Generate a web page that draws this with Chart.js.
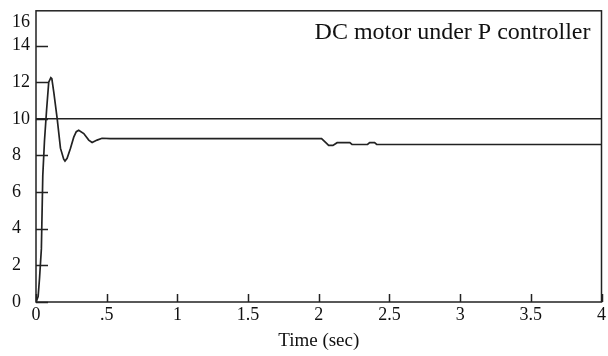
<!DOCTYPE html>
<html>
<head>
<meta charset="utf-8">
<script src="https://cdn.jsdelivr.net/npm/chart.js@4/dist/chart.umd.min.js"></script>
<style>
  html, body { margin: 0; padding: 0; background: #fff; }
  #grafico { display: block; }
</style>
</head>
<body>
<canvas id="grafico" width="608" height="356"></canvas>
<script>
// respuesta del motor (tiempo en seg, velocidad)
const tiempo = [0, 0.015, 0.025, 0.038, 0.048, 0.06, 0.075, 0.09, 0.105, 0.112, 0.126, 0.15, 0.173, 0.196, 0.205,
  0.22, 0.244, 0.267, 0.285, 0.302, 0.338, 0.373, 0.397, 0.432, 0.467, 0.525, 1, 1.5, 2.02, 2.05, 2.07, 2.1,
  2.13, 2.22, 2.235, 2.345, 2.36, 2.395, 2.41, 3, 4];
const velocidad = [0, 0.3, 1.3, 2.9, 6.9, 8.8, 10.5, 12.0, 12.25, 12.2, 11.45, 10.0, 8.4, 7.8, 7.7,
  7.85, 8.4, 9.0, 9.3, 9.38, 9.2, 8.84, 8.71, 8.84, 8.94, 8.92, 8.92, 8.92, 8.92, 8.7, 8.55, 8.55,
  8.7, 8.7, 8.6, 8.6, 8.7, 8.7, 8.6, 8.6, 8.6];
// referencia
const tiempoRef = [0, 4];
const valorRef = [10, 10];

const xTicks = [0, 0.5, 1, 1.5, 2, 2.5, 3, 3.5, 4];
const xLabels = ['0', '.5', '1', '1.5', '2', '2.5', '3', '3.5', '4'];
const yTicks = [0, 2, 4, 6, 8, 10, 12, 14, 15.25];
const yLabels = ['0', '2', '4', '6', '8', '10', '12', '14', '16'];
const yMarcas = [0, 2, 4, 6, 8, 10, 12, 14];

const titulo = 'DC motor under P controller';
const tituloX = 'Time (sec)';

const fuente = '"Liberation Serif", "Times New Roman", serif';
const tinta = '#222';

function puntos(xs, ys) {
  let arr = [];
  for (let i = 0; i < xs.length; i++) arr.push({x: xs[i], y: ys[i]});
  return arr;
}

// marco, marcas hacia dentro y titulo
const marco = {
  id: 'marco',
  afterDatasetsDraw(chart) {
    const c = chart.ctx;
    const a = chart.chartArea;
    const sx = chart.scales.x, sy = chart.scales.y;
    c.save();
    c.strokeStyle = tinta;
    c.lineWidth = 1.5;
    c.strokeRect(a.left, a.top, a.right - a.left, a.bottom - a.top);
    c.beginPath();
    xTicks.forEach(v => {
      const px = Math.round(sx.getPixelForValue(v)) + 0.5;
      c.moveTo(px, a.bottom);
      c.lineTo(px, a.bottom - 8);
    });
    yMarcas.forEach(v => {
      const py = Math.round(sy.getPixelForValue(v)) + 0.5;
      c.moveTo(a.left, py);
      c.lineTo(a.left + 12, py);
    });
    c.stroke();
    c.fillStyle = '#111';
    c.font = '24px ' + fuente;
    c.textAlign = 'right';
    c.textBaseline = 'alphabetic';
    c.fillText(titulo, a.right - 11, a.top + 28);
    c.restore();
  }
};

new Chart(document.getElementById('grafico').getContext('2d'), {
  type: 'line',
  data: {
    datasets: [{
      data: puntos(tiempo, velocidad),
      borderColor: tinta,
      borderWidth: 1.7,
      pointRadius: 0,
      tension: 0
    }, {
      data: puntos(tiempoRef, valorRef),
      borderColor: tinta,
      borderWidth: 1.5,
      pointRadius: 0
    }]
  },
  options: {
    responsive: false,
    animation: false,
    layout: { padding: { left: 12, right: 5, top: 8, bottom: 0 } },
    plugins: { legend: { display: false }, tooltip: { enabled: false } },
    scales: {
      x: {
        type: 'linear',
        min: 0,
        max: 4,
        grid: { display: false, drawTicks: false },
        border: { display: false },
        afterBuildTicks(s) { s.ticks = xTicks.map(v => ({value: v})); },
        afterFit(s) { s.height = 54; },
        ticks: {
          color: '#111',
          font: { family: fuente, size: 18 },
          padding: 2,
          maxRotation: 0,
          autoSkip: false,
          callback: (v) => xLabels[xTicks.indexOf(v)]
        },
        title: {
          display: true,
          text: tituloX,
          color: '#111',
          font: { family: fuente, size: 19 },
          padding: { top: 0, bottom: 4 }
        }
      },
      y: {
        min: 0,
        max: 15.9,
        grid: { display: false, drawTicks: false },
        border: { display: false },
        afterBuildTicks(s) { s.ticks = yTicks.map(v => ({value: v})); },
        afterFit(s) { s.width = 24; },
        ticks: {
          color: '#111',
          font: { family: fuente, size: 18 },
          crossAlign: 'far',
          padding: 0,
          autoSkip: false,
          callback: (v) => yLabels[yTicks.indexOf(v)]
        }
      }
    }
  },
  plugins: [marco]
});
</script>
</body>
</html>
